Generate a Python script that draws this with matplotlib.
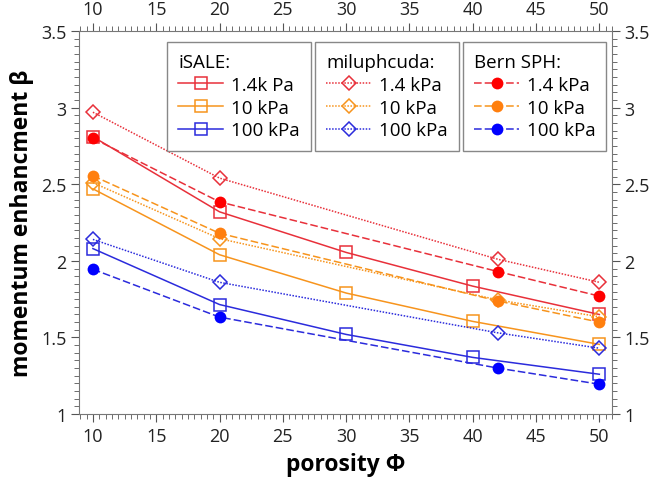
import matplotlib
matplotlib.use("Agg")
import matplotlib.pyplot as plt
from matplotlib.ticker import MultipleLocator

plt.rcParams['font.family'] = ['Open Sans', 'DejaVu Sans']

# porosity values for each code
x_isale = [10, 20, 30, 40, 50]
x_milu = [10, 20, 42, 50]
x_sph = [10, 20, 42, 50]

# iSALE
isale_14 = [2.81, 2.32, 2.055, 1.835, 1.65]
isale_10 = [2.47, 2.04, 1.79, 1.605, 1.455]
isale_100 = [2.08, 1.715, 1.52, 1.37, 1.26]
# miluphcuda
milu_14 = [2.97, 2.54, 2.01, 1.86]
milu_10 = [2.51, 2.145, 1.745, 1.635]
milu_100 = [2.14, 1.86, 1.53, 1.43]
# Bern SPH
sph_14 = [2.80, 2.385, 1.93, 1.77]
sph_10 = [2.555, 2.18, 1.738, 1.60]
sph_100 = [1.945, 1.633, 1.30, 1.195]

red = '#e8303a'
orange = '#f7941d'
blue = '#2b2bdc'

fig = plt.figure(figsize=(6.49, 4.81), dpi=100)
ax = fig.add_axes([0.1217, 0.137, 0.8213, 0.7965])

sq = dict(marker='s', ms=8.5, mfc='none', mew=1.1, lw=1.1, ls='-')
dm = dict(marker='D', ms=7, mfc='none', mew=1.1, lw=1.1, ls=(0, (1, 1)))
ci = dict(marker='o', ms=8.5, mew=0, lw=1.1, ls=(0, (5, 2)))

h_isale = [
    ax.plot(x_isale, isale_14, color=red, label='1.4k Pa', **sq)[0],
    ax.plot(x_isale, isale_10, color=orange, label='10 kPa', **sq)[0],
    ax.plot(x_isale, isale_100, color=blue, label='100 kPa', **sq)[0],
]
h_milu = [
    ax.plot(x_milu, milu_14, color=red, label='1.4 kPa', **dm)[0],
    ax.plot(x_milu, milu_10, color=orange, label='10 kPa', **dm)[0],
    ax.plot(x_milu, milu_100, color=blue, label='100 kPa', **dm)[0],
]
h_sph = [
    ax.plot(x_sph, sph_14, color=red, mfc='#ff0000', label='1.4 kPa', **ci)[0],
    ax.plot(x_sph, sph_10, color=orange, mfc='#ff7f0e', label='10 kPa', **ci)[0],
    ax.plot(x_sph, sph_100, color=blue, mfc='#0000ff', label='100 kPa', **ci)[0],
]

ax.set_xlim(8.9, 51)
ax.set_ylim(1, 3.5)
ax.xaxis.set_major_locator(MultipleLocator(5))
ax.xaxis.set_minor_locator(MultipleLocator(0.5))
ax.yaxis.set_major_locator(MultipleLocator(0.5))
ax.yaxis.set_minor_locator(MultipleLocator(0.05))
ax.yaxis.set_major_formatter(plt.FuncFormatter(lambda v, p: f'{v:g}'))

ax.tick_params(which='both', direction='out', top=True, right=True,
               labeltop=True, labelright=True, labelsize=13,
               color='#555555', labelcolor='#222222')
ax.tick_params(which='major', length=6, width=0.8, pad=3)
ax.tick_params(which='minor', length=3.5, width=0.6)
for s in ax.spines.values():
    s.set_color('#777777')
    s.set_linewidth(0.8)

ax.set_xlabel('porosity Φ', fontsize=16.5, fontweight='bold', labelpad=5)
ax.set_ylabel('momentum enhancment β', fontsize=16.5, fontweight='bold', labelpad=5)

legs = []
for handles, title, xpos in [(h_isale, 'iSALE:', 0.165),
                             (h_milu, 'miluphcuda:', 0.443),
                             (h_sph, 'Bern SPH:', 0.72)]:
    leg = ax.legend(handles=handles, title=title, loc='upper left',
                    bbox_to_anchor=(xpos, 0.971), fontsize=13.5,
                    title_fontsize=13.5, alignment='left', fancybox=False,
                    framealpha=1, edgecolor='#888888', handlelength=2.4,
                    handletextpad=0.4, borderpad=0.6, labelspacing=0.25,
                    borderaxespad=0)
    leg.get_frame().set_linewidth(1.0)
    legs.append(leg)
for leg in legs[:-1]:
    ax.add_artist(leg)

fig.savefig('out.png', dpi=100)
